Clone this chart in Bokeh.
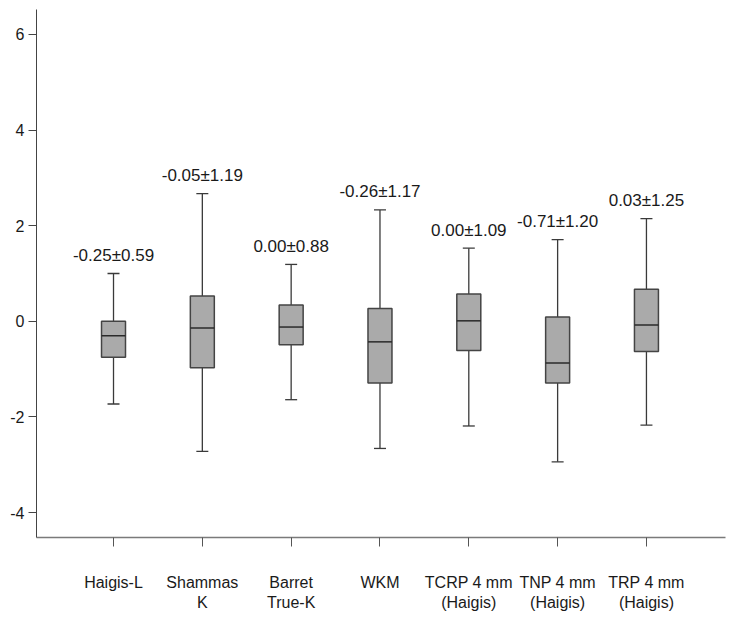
from bokeh.plotting import figure
from bokeh.models import ColumnDataSource, Range1d, FixedTicker
from bokeh.embed import file_html
from bokeh.resources import INLINE
from bokeh.core.properties import value

# ---- data ----
categories = ["Haigis-L", "Shammas\nK", "Barret\nTrue-K", "WKM",
              "TCRP 4 mm\n(Haigis)", "TNP 4 mm\n(Haigis)", "TRP 4 mm\n(Haigis)"]
whisker_low = [-1.73, -2.72, -1.64, -2.66, -2.19, -2.94, -2.17]
q1          = [-0.75, -0.97, -0.49, -1.29, -0.61, -1.29, -0.63]
median      = [-0.30, -0.14, -0.12, -0.43, 0.01, -0.87, -0.08]
q3          = [0.00, 0.53, 0.34, 0.27, 0.57, 0.09, 0.67]
whisker_high = [1.00, 2.67, 1.19, 2.33, 1.53, 1.71, 2.15]
means = [-0.25, -0.05, 0.00, -0.26, 0.00, -0.71, 0.03]
sds   = [0.59, 1.19, 0.88, 1.17, 1.09, 1.20, 1.25]
y_ticks = [-4, -2, 0, 2, 4, 6]

FONT = "Liberation Sans"
xs = list(range(1, len(categories) + 1))
box_w = 0.27
cap_w = 0.135

labels = [f"{m:.2f}\u00b1{s:.2f}" for m, s in zip(means, sds)]

src = ColumnDataSource(dict(
    x=xs, lo=whisker_low, q1=q1, med=median, q3=q3, hi=whisker_high,
    cl=[x - cap_w / 2 for x in xs], cr=[x + cap_w / 2 for x in xs],
    bl=[x - box_w / 2 for x in xs], br=[x + box_w / 2 for x in xs],
    label=labels,
))

p = figure(width=737, height=617, output_backend="svg", toolbar_location=None,
           x_range=Range1d(0.133, 7.89), y_range=Range1d(-4.523, 6.523),
           min_border_left=36, min_border_right=12, min_border_top=9,
           min_border_bottom=80)
p.outline_line_color = None
p.grid.visible = False
p.background_fill_color = "white"

wcol = "#3a3a3a"
# whiskers
p.segment(x0="x", y0="lo", x1="x", y1="q1", source=src, line_color=wcol, line_width=1.3)
p.segment(x0="x", y0="q3", x1="x", y1="hi", source=src, line_color=wcol, line_width=1.3)
p.segment(x0="cl", y0="lo", x1="cr", y1="lo", source=src, line_color=wcol, line_width=1.3)
p.segment(x0="cl", y0="hi", x1="cr", y1="hi", source=src, line_color=wcol, line_width=1.3)
# boxes
p.quad(left="bl", right="br", bottom="q1", top="q3", source=src,
       fill_color="#aaaaaa", line_color="#444444", line_width=1.5)
p.segment(x0="bl", y0="med", x1="br", y1="med", source=src, line_color="#2a2a2a", line_width=1.5)

# value labels
p.text(x="x", y="hi", text="label", source=src, text_font=value(FONT),
       text_font_size="17px", text_color="#1a1a1a", text_align="center",
       text_baseline="middle", y_offset=-18)

# axes
p.yaxis.ticker = FixedTicker(ticks=y_ticks)
p.yaxis.major_label_overrides = {t: str(t) for t in y_ticks}
p.yaxis.minor_tick_line_color = None
p.yaxis.major_tick_out = 8
p.yaxis.major_tick_in = 0
p.yaxis.major_label_standoff = 4
p.yaxis.axis_line_color = "#444444"
p.yaxis.major_tick_line_color = "#444444"
p.yaxis.major_label_text_font = FONT
p.yaxis.major_label_text_font_size = "16px"
p.yaxis.major_label_text_color = "#1a1a1a"

p.xaxis.ticker = FixedTicker(ticks=xs)
p.xaxis.major_label_overrides = {x: c for x, c in zip(xs, categories)}
p.xaxis.minor_tick_line_color = None
p.xaxis.major_tick_out = 9
p.xaxis.major_tick_in = 0
p.xaxis.major_label_standoff = 27
p.xaxis.axis_line_color = "#7a7a7a"
p.xaxis.axis_line_width = 1.5
p.xaxis.major_tick_line_color = "#555555"
p.xaxis.major_label_text_font = FONT
p.xaxis.major_label_text_font_size = "16px"
p.xaxis.major_label_text_color = "#1a1a1a"

open("out.html", "w").write(file_html(p, INLINE))
